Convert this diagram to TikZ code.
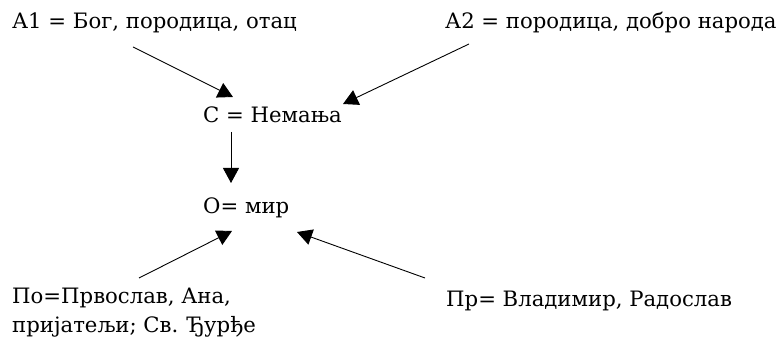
\documentclass[tikz,border=0pt]{standalone}
\usepackage{fontspec}
\setmainfont{DejaVu Serif}
\usetikzlibrary{arrows.meta}
\tikzset{
  lbl/.style={anchor=base west, inner sep=0pt, font=\fontsize{21.2}{29.5}\selectfont},
  link/.style={line width=0.9pt, -{Triangle[length=15pt,width=16pt]}}
}
\begin{document}
\begin{tikzpicture}[x=1pt, y=-1pt]
  \useasboundingbox (0,0) rectangle (782,344);
  % labels
  \node[lbl] (a1) at (12,29) {А1 = Бог, породица, отац};
  \node[lbl] (a2) at (445,29) {А2 = породица, добро народа};
  \node[lbl] (c) at (203,123) {С = Немања};
  \node[lbl] (o) at (203,214) {О= мир};
  \node[lbl, align=left] (po) at (12,333) {По=Првослав, Ана,\\пријатељи; Св. Ђурђе};
  \node[lbl] (pr) at (446,307) {Пр= Владимир, Радослав};
  % arrow ends
  \coordinate (a1s) at (133,47);
  \coordinate (a1e) at (233,97);
  \coordinate (a2s) at (469,44);
  \coordinate (a2e) at (343,104);
  \coordinate (cs) at (231,132);
  \coordinate (ce) at (231,183);
  \coordinate (pos) at (139,278);
  \coordinate (poe) at (232,231);
  \coordinate (prs) at (425,278);
  \coordinate (pre) at (297,232);
  % arrows
  \draw[link] (a1s) -- (a1e);
  \draw[link] (a2s) -- (a2e);
  \draw[link] (cs) -- (ce);
  \draw[link] (pos) -- (poe);
  \draw[link] (prs) -- (pre);
\end{tikzpicture}
\end{document}
